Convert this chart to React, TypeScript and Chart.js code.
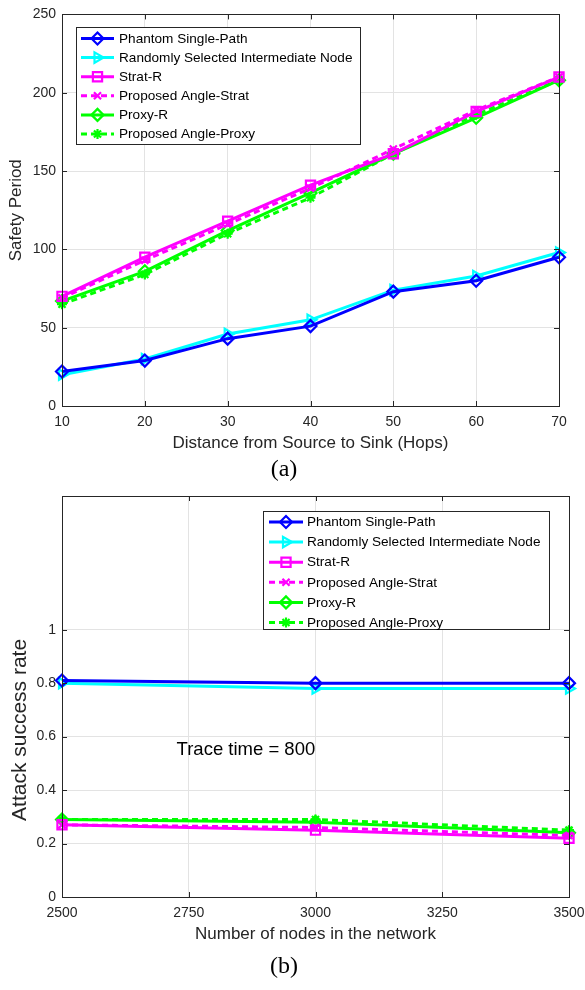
import React, { useEffect, useRef } from "react";
import { Chart, registerables } from "chart.js";
import { drawPoint } from "chart.js/helpers";

Chart.register(...registerables);

// ---------- Data ----------
const seriesNames = [
  "Phantom Single-Path",
  "Randomly Selected Intermediate Node",
  "Strat-R",
  "Proposed Angle-Strat",
  "Proxy-R",
  "Proposed Angle-Proxy",
];

// (a) Safety period vs distance
const hops = [10, 20, 30, 40, 50, 60, 70];
const phantomA = [22, 29, 43, 51, 73, 80, 95];
const randomA = [20, 30, 46, 55, 74, 83, 98];
const stratA = [70, 95, 118, 141, 161, 188, 210];
const angleStratA = [69, 93, 116, 139, 164, 189, 210];
const proxyA = [67, 86, 112, 136, 161, 184, 208];
const angleProxyA = [65, 84, 110, 133, 161, 186, 208];

// (b) Attack success rate vs number of nodes
const nodes = [2500, 3000, 3500];
const phantomB = [0.81, 0.8, 0.8];
const randomB = [0.8, 0.78, 0.78];
const stratB = [0.27, 0.25, 0.22];
const angleStratB = [0.27, 0.26, 0.23];
const proxyB = [0.29, 0.28, 0.24];
const angleProxyB = [0.29, 0.29, 0.25];

const annotationText = "Trace time = 800";
const annotationX = 2726;
const annotationY = 0.55;
const yTitleB = "Attack success rate";

// ---------- Styles ----------
const colors = ["#0000ff", "#00ffff", "#ff00ff", "#ff00ff", "#00ff00", "#00ff00"];
const markers = ["rectRot", "triangle", "rect", "crossRot", "rectRot", "star"];
const markerRot = [0, 90, 0, 0, 0, 0];
const markerRadius = [6, 6, 6.5, 5, 6, 5];
const dashes = [[], [], [], [6, 4], [], [6, 4]];

const FONT = "'Liberation Sans', Arial, Helvetica, sans-serif";
const TXT = "#262626";
const GRID = "#e3e3e3";

function makeDatasets(xs: number[], ys: number[][]) {
  return ys.map((vals, i) => ({
    label: seriesNames[i],
    data: vals.map((v, j) => ({ x: xs[j], y: v })),
    borderColor: colors[i],
    backgroundColor: "rgba(0,0,0,0)",
    borderWidth: 3,
    borderDash: dashes[i],
    pointStyle: markers[i],
    pointRotation: markerRot[i],
    pointRadius: markerRadius[i],
    pointBorderWidth: 2.2,
    pointBorderColor: colors[i],
    pointBackgroundColor: markers[i] === "star" ? colors[i] : "rgba(0,0,0,0)",
    tension: 0,
    clip: false,
  }));
}

const matlabPlugin = {
  id: "matlab",
  afterDatasetsDraw(chart: any, _args: any, opts: any) {
    const { ctx, chartArea: a } = chart;
    ctx.save();
    // frame
    ctx.strokeStyle = TXT;
    ctx.lineWidth = 1;
    ctx.setLineDash([]);
    ctx.strokeRect(Math.round(a.left) + 0.5, Math.round(a.top) + 0.5, Math.round(a.right - a.left), Math.round(a.bottom - a.top));
    // inward ticks
    const tl = 5;
    const xs = chart.scales.x;
    const ys = chart.scales.y;
    ctx.beginPath();
    xs.ticks.forEach((t: any) => {
      const px = Math.round(xs.getPixelForValue(t.value)) + 0.5;
      ctx.moveTo(px, a.bottom);
      ctx.lineTo(px, a.bottom - tl);
      ctx.moveTo(px, a.top);
      ctx.lineTo(px, a.top + tl);
    });
    ys.ticks.forEach((t: any) => {
      const py = Math.round(ys.getPixelForValue(t.value)) + 0.5;
      ctx.moveTo(a.left, py);
      ctx.lineTo(a.left + tl, py);
      ctx.moveTo(a.right, py);
      ctx.lineTo(a.right - tl, py);
    });
    ctx.stroke();

    // custom y title (placed like the reference)
    if (opts.yTitle) {
      ctx.save();
      ctx.fillStyle = TXT;
      ctx.font = `${opts.yTitle.size}px ${FONT}`;
      ctx.textAlign = "center";
      ctx.textBaseline = "middle";
      ctx.translate(opts.yTitle.x, ys.getPixelForValue(opts.yTitle.atValue));
      ctx.rotate(-Math.PI / 2);
      ctx.fillText(opts.yTitle.text, 0, 0);
      ctx.restore();
    }

    // annotation text
    if (opts.note) {
      ctx.fillStyle = "#000";
      ctx.font = `18.5px ${FONT}`;
      ctx.textAlign = "left";
      ctx.textBaseline = "middle";
      ctx.fillText(opts.note.text, xs.getPixelForValue(opts.note.x), ys.getPixelForValue(opts.note.y));
    }

    // legend
    const L = opts.legend;
    if (L) {
      ctx.fillStyle = "#fff";
      ctx.fillRect(L.x, L.y, L.w, L.h);
      ctx.strokeStyle = TXT;
      ctx.lineWidth = 1;
      ctx.strokeRect(L.x + 0.5, L.y + 0.5, L.w, L.h);
      chart.data.datasets.forEach((ds: any, i: number) => {
        const cy = L.y + L.first + L.row * i;
        ctx.strokeStyle = ds.borderColor;
        ctx.lineWidth = 3;
        ctx.setLineDash(ds.borderDash || []);
        ctx.beginPath();
        ctx.moveTo(L.lx0, cy);
        ctx.lineTo(L.lx1, cy);
        ctx.stroke();
        ctx.setLineDash([]);
        ctx.strokeStyle = ds.borderColor;
        ctx.fillStyle = ds.pointBackgroundColor;
        ctx.lineWidth = 2.2;
        drawPoint(ctx, { pointStyle: ds.pointStyle, rotation: ds.pointRotation, radius: ds.pointRadius, borderWidth: 2.2 }, (L.lx0 + L.lx1) / 2, cy);
        ctx.fillStyle = "#000";
        ctx.font = `13.6px ${FONT}`;
        ctx.textAlign = "left";
        ctx.textBaseline = "middle";
        ctx.fillText(ds.label, L.tx, cy + 0.5);
      });
    }
    ctx.restore();
  },
};

function fmt(v: any) {
  return String(Math.round(Number(v) * 100) / 100);
}

function noEdgePad(s: any) {
  s.paddingLeft = 0;
  s.paddingRight = 0;
}

function configA() {
  return {
    type: "line",
    data: { datasets: makeDatasets(hops, [phantomA, randomA, stratA, angleStratA, proxyA, angleProxyA]) },
    plugins: [matlabPlugin],
    options: {
      responsive: false,
      animation: false,
      events: [],
      layout: { padding: { top: 11, right: 26, left: 0, bottom: 0 } },
      plugins: {
        legend: { display: false },
        tooltip: { enabled: false },
        matlab: {
          legend: { x: 76, y: 27, w: 284, h: 117, first: 11.5, row: 19.1, lx0: 81, lx1: 114, tx: 119 },
        },
      },
      scales: {
        x: {
          type: "linear",
          min: 10,
          max: 70,
          ticks: { stepSize: 10, color: TXT, font: { family: FONT, size: 14 }, padding: 8, callback: fmt, maxRotation: 0 },
          grid: { color: GRID, drawTicks: false },
          border: { display: false },
          title: { display: true, text: "Distance from Source to Sink (Hops)", color: TXT, font: { family: FONT, size: 17 }, padding: { top: 0, bottom: 6 } },
          afterFit: (s: any) => { s.height = 54; noEdgePad(s); },
        },
        y: {
          type: "linear",
          min: 0,
          max: 250,
          ticks: { stepSize: 50, color: TXT, font: { family: FONT, size: 14 }, padding: 6, callback: fmt },
          grid: { color: GRID, drawTicks: false },
          border: { display: false },
          title: { display: true, text: "Safety Period", color: TXT, font: { family: FONT, size: 17 }, padding: { top: 6.5, bottom: 0 } },
          afterFit: (s: any) => { s.width = 62; },
        },
      },
    },
  };
}

function configB() {
  return {
    type: "line",
    data: { datasets: makeDatasets(nodes, [phantomB, randomB, stratB, angleStratB, proxyB, angleProxyB]) },
    plugins: [matlabPlugin],
    options: {
      responsive: false,
      animation: false,
      events: [],
      layout: { padding: { top: 16, right: 16, left: 0, bottom: 0 } },
      plugins: {
        legend: { display: false },
        tooltip: { enabled: false },
        matlab: {
          note: { text: annotationText, x: annotationX, y: annotationY },
          yTitle: { text: yTitleB, x: 20, atValue: 0.625, size: 21 },
          legend: { x: 263, y: 31, w: 286, h: 118, first: 11, row: 20.1, lx0: 269, lx1: 303, tx: 307 },
        },
      },
      scales: {
        x: {
          type: "linear",
          min: 2500,
          max: 3500,
          ticks: { stepSize: 250, color: TXT, font: { family: FONT, size: 14 }, padding: 8, callback: fmt, maxRotation: 0 },
          grid: { color: GRID, drawTicks: false },
          border: { display: false },
          title: { display: true, text: "Number of nodes in the network", color: TXT, font: { family: FONT, size: 17 }, padding: { top: 0, bottom: 5 } },
          afterFit: (s: any) => { s.height = 53; noEdgePad(s); },
        },
        y: {
          type: "linear",
          min: 0,
          max: 1.5,
          ticks: { stepSize: 0.2, color: TXT, font: { family: FONT, size: 14 }, padding: 6, callback: fmt },
          afterBuildTicks: (s: any) => { s.ticks = s.ticks.filter((t: any) => t.value <= 1.0001); },
          grid: { color: GRID, drawTicks: false },
          border: { display: false },
          title: { display: false },
          afterFit: (s: any) => { s.width = 62; },
        },
      },
    },
  };
}

function ChartCanvas({ make, top, height }: { make: () => any; top: number; height: number }) {
  const ref = useRef<HTMLCanvasElement | null>(null);
  useEffect(() => {
    const c = new Chart(ref.current as HTMLCanvasElement, make());
    return () => c.destroy();
  }, []);
  return (
    <canvas
      ref={ref}
      width={585}
      height={height}
      style={{ position: "absolute", left: 0, top, width: 585, height }}
    />
  );
}

const captionStyle: React.CSSProperties = {
  position: "absolute",
  left: 0,
  width: 568,
  textAlign: "center",
  fontFamily: "'Liberation Serif', 'Times New Roman', serif",
  fontSize: 24,
  color: "#000",
  lineHeight: "28px",
};

export default function App() {
  return (
    <div style={{ position: "absolute", left: 0, top: 0, width: 585, height: 990, background: "#fff", overflow: "hidden" }}>
      <ChartCanvas make={configA} top={0} height={460} />
      <div style={{ ...captionStyle, top: 454 }}>(a)</div>
      <ChartCanvas make={configB} top={480} height={470} />
      <div style={{ ...captionStyle, top: 951 }}>(b)</div>
    </div>
  );
}
